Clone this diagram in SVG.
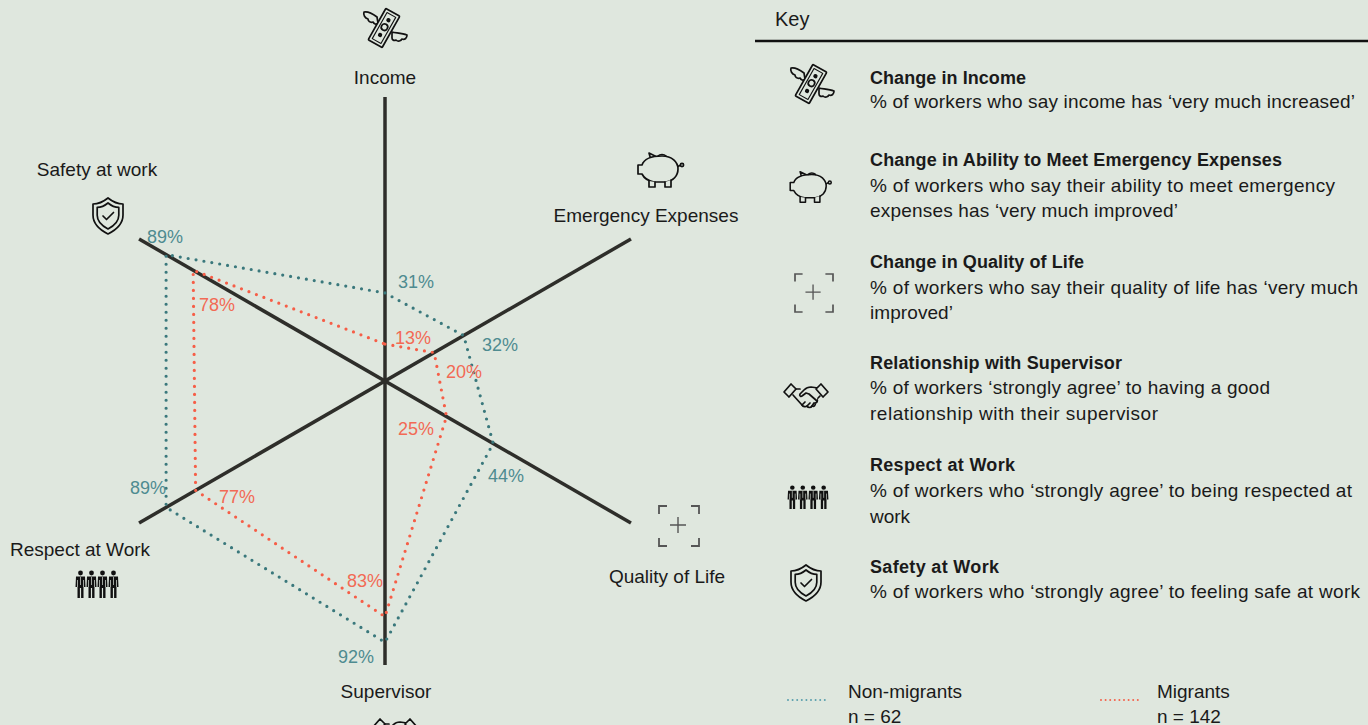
<svg xmlns="http://www.w3.org/2000/svg" xmlns:xlink="http://www.w3.org/1999/xlink" width="1368" height="725" viewBox="0 0 1368 725">
<style>
text{font-family:"Liberation Sans",Arial,sans-serif;fill:#1a1a1a}
.ax{font-size:19px}
.pt{font-size:18px;fill:#4E8B90}
.pr{font-size:18px;fill:#F26A55}
.kt{font-size:18px;font-weight:bold}
.kd{font-size:19px}
.axis{stroke:#2E2E2A;stroke-width:3.5;fill:none}
.teal{fill:none;stroke:#3A787C;stroke-width:3.2;stroke-linecap:round;stroke-dasharray:0 8}
.red{fill:none;stroke:#F65E47;stroke-width:3.2;stroke-linecap:round;stroke-dasharray:0 8}
.ic{fill:#DFE7DE;stroke:#111;stroke-width:1.7;stroke-linejoin:round;stroke-linecap:round}
</style>
<defs>
<g id="icon-money" class="ic">
<path d="M-8,-11 C-12,-14 -17,-17 -21,-16 C-22,-13 -20,-10 -17,-9 C-17,-7 -15,-5 -12,-6 C-11,-4 -9,-3 -7,-5 Z"/>
<path d="M7,4 C11,5 17,5 22,7 C22,10 20,12 17,11 C16,13 13,14 11,12 C9,13 7,12 7,10 Z"/>
<g transform="translate(-1,0) rotate(29.5)">
<rect x="-8" y="-18" width="16" height="36" rx="1"/>
<rect x="-5" y="-15" width="10" height="30" stroke-width="1.1"/>
<circle cx="0" cy="-1" r="3.2"/>
<circle cx="0" cy="-9" r="1.3" fill="#111"/>
<circle cx="0" cy="8" r="1.3" fill="#111"/>
</g>
</g>
<g id="icon-pig" class="ic">
<path d="M-9,-10 L-11,-17 L-3,-13"/>
<path d="M17,-3 C19,-4 20,-5 21,-5"/>
<circle cx="22" cy="-5" r="1.6"/>
<path d="M-18,-5 C-16,-11 -8,-14 2,-14 C12,-14 18,-8 18,-1 C18,6 13,11 6,12 L-6,12 C-12,11 -16,8 -18,4 L-22,4 L-22,-5 Z"/>
<path d="M-11,11 L-11,17 L-5,17 L-5,12 M5,12 L5,17 L11,17 L11,10"/>
<path d="M-2,-14 C0,-16 4,-16 6,-14" fill="none"/>
</g>
<g id="icon-quality" fill="none" stroke="#555" stroke-width="1.8">
<path d="M-20,-12 V-20 H-12 M12,-20 H20 V-12 M20,12 V20 H12 M-12,20 H-20 V12"/>
<path d="M-1,-9 V7 M-9,-1 H7" stroke-width="1.4"/>
</g>
<g id="icon-shield" fill="none" stroke="#111" stroke-width="1.7" stroke-linejoin="round" stroke-linecap="round">
<path d="M0,-18 C5,-14 10,-12 15,-12 L15,-1 C15,8 8,14 0,18 C-8,14 -15,8 -15,-1 L-15,-12 C-10,-12 -5,-14 0,-18 Z"/>
<path d="M0,-13 C3.6,-10 7.2,-8.6 10.8,-8.6 L10.8,-0.7 C10.8,5.8 5.8,10 0,13 C-5.8,10 -10.8,5.8 -10.8,-0.7 L-10.8,-8.6 C-7.2,-8.6 -3.6,-10 0,-13 Z"/>
<path d="M-5,0 L-1.5,3.5 L5.5,-3.5"/>
</g>
<g id="person">
<circle cx="0" cy="-11" r="2.4" fill="#111"/>
<path d="M-4.5,-7.5 H4.5 L5,3 H3 V14 H0.6 V4 H-0.6 V14 H-3 V3 H-5 Z" fill="#111"/>
<path d="M0,-7 V1 M-3,-4 V3 M3,-4 V3" stroke="#DFE7DE" stroke-width="0.7" fill="none"/>
</g>
<g id="icon-people">
<use xlink:href="#person" x="-16.5"/>
<use xlink:href="#person" x="-5.5"/>
<use xlink:href="#person" x="5.5"/>
<use xlink:href="#person" x="16.5"/>
</g>
<g id="icon-hand" class="ic">
<path d="M-13,-3 L-4,7 C-3,9 0,9 1,8 C2,10 5,10 6,8 C8,9 10,7 9,5 C11,5 12,3 11,1 L14,-2"/>
<path d="M12,-10 L5,-11 C3,-11 0,-10 -2,-8 L-6,-4 C-7,-2 -5,-1 -4,-2 L0,-5 L3,-4 L11,3"/>
<path d="M-12,-9 L-6,-9" fill="none"/>
<path d="M-4,7 L-1,4 M1,8 L4,5 M6,8 L8,5" fill="none"/>
<path d="M-22,-6 L-15,-14 L-10,-9 L-17,-1 Z"/>
<path d="M22,-6 L15,-14 L10,-9 L17,-1 Z"/>
</g>
</defs>
<rect x="0" y="0" width="1368" height="725" fill="#DFE7DE"/>

<g id="axes">
<line class="axis" x1="385" y1="97" x2="385" y2="665"/>
<line class="axis" x1="139.05" y1="239" x2="630.95" y2="523"/>
<line class="axis" x1="139.05" y1="523" x2="630.95" y2="239"/>
</g>

<g id="connectors">
<polygon id="non-migrants" class="teal" points="385,292.96 463.7,335.56 493.22,443.48 385,642.28 166.1,507.38 166.1,254.62"/>
<polygon id="migrants" class="red" points="385,344.08 434.19,352.6 446.49,416.5 385,616.72 195.62,490.34 193.16,270.24"/>
</g>

<g id="values-non-migrants">
<text class="pt" x="147" y="243">89%</text>
<text class="pt" x="398" y="288">31%</text>
<text class="pt" x="482" y="351">32%</text>
<text class="pt" x="488" y="482">44%</text>
<text class="pt" x="338" y="663">92%</text>
<text class="pt" x="130" y="494">89%</text>
</g>
<g id="values-migrants">
<text class="pr" x="199" y="311">78%</text>
<text class="pr" x="395" y="344">13%</text>
<text class="pr" x="446" y="378">20%</text>
<text class="pr" x="398" y="435">25%</text>
<text class="pr" x="219" y="503">77%</text>
<text class="pr" x="347" y="587">83%</text>
</g>

<g id="node-income">
<use xlink:href="#icon-money" x="385" y="28"/>
<text class="ax" x="385" y="84" text-anchor="middle">Income</text>
</g>
<g id="node-emergency">
<use xlink:href="#icon-pig" x="660" y="170"/>
<text class="ax" x="646" y="222" text-anchor="middle">Emergency Expenses</text>
</g>
<g id="node-quality">
<use xlink:href="#icon-quality" x="679" y="526"/>
<text class="ax" x="667" y="583" text-anchor="middle">Quality of Life</text>
</g>
<g id="node-supervisor">
<text class="ax" x="386" y="698" text-anchor="middle">Supervisor</text>
<use xlink:href="#icon-hand" x="395" y="733"/>
</g>
<g id="node-respect">
<text class="ax" x="80" y="556" text-anchor="middle">Respect at Work</text>
<use xlink:href="#icon-people" x="97" y="584"/>
</g>
<g id="node-safety">
<text class="ax" x="97" y="176" text-anchor="middle">Safety at work</text>
<use xlink:href="#icon-shield" x="108" y="216"/>
</g>

<g id="key">
<text x="775" y="26" font-size="20">Key</text>
<line x1="755" y1="41" x2="1368" y2="41" stroke="#111" stroke-width="2.5"/>
<g id="key-income">
<use xlink:href="#icon-money" x="812" y="84"/>
<text class="kt" x="870" y="84" textLength="156">Change in Income</text>
<text class="kd" x="870" y="108" textLength="485">% of workers who say income has ‘very much increased’</text>
</g>
<g id="key-emergency">
<use xlink:href="#icon-pig" transform="translate(810,187) scale(0.9)"/>
<text class="kt" x="870" y="166" textLength="412">Change in Ability to Meet Emergency Expenses</text>
<text class="kd" x="870" y="192" textLength="465">% of workers who say their ability to meet emergency</text>
<text class="kd" x="870" y="217" textLength="308">expenses has ‘very much improved’</text>
</g>
<g id="key-quality">
<use xlink:href="#icon-quality" transform="translate(814,293) scale(0.95)"/>
<text class="kt" x="870" y="268" textLength="214">Change in Quality of Life</text>
<text class="kd" x="870" y="294" textLength="488">% of workers who say their quality of life has ‘very much</text>
<text class="kd" x="870" y="319" textLength="83">improved’</text>
</g>
<g id="key-supervisor">
<use xlink:href="#icon-hand" x="806" y="398"/>
<text class="kt" x="870" y="369" textLength="252">Relationship with Supervisor</text>
<text class="kd" x="870" y="394" textLength="400">% of workers ‘strongly agree’ to having a good</text>
<text class="kd" x="870" y="420" textLength="288">relationship with their supervisor</text>
</g>
<g id="key-respect">
<use xlink:href="#icon-people" transform="translate(808,497) scale(0.95,0.85)"/>
<text class="kt" x="870" y="471" textLength="145">Respect at Work</text>
<text class="kd" x="870" y="497" textLength="482">% of workers who ‘strongly agree’ to being respected at</text>
<text class="kd" x="870" y="523">work</text>
</g>
<g id="key-safety">
<use xlink:href="#icon-shield" x="806" y="583"/>
<text class="kt" x="870" y="573" textLength="129">Safety at Work</text>
<text class="kd" x="870" y="598" textLength="490">% of workers who ‘strongly agree’ to feeling safe at work</text>
</g>
</g>

<g id="legend">
<line x1="788" y1="700" x2="826" y2="700" stroke="#5A9FAD" stroke-width="2" stroke-linecap="round" stroke-dasharray="0 4.6"/>
<text x="848" y="698" font-size="19">Non-migrants</text>
<text x="848" y="723" font-size="19">n = 62</text>
<line x1="1101" y1="700" x2="1141" y2="700" stroke="#F4614B" stroke-width="2" stroke-linecap="round" stroke-dasharray="0 4.6"/>
<text x="1157" y="698" font-size="19">Migrants</text>
<text x="1157" y="723" font-size="19">n = 142</text>
</g>
</svg>
